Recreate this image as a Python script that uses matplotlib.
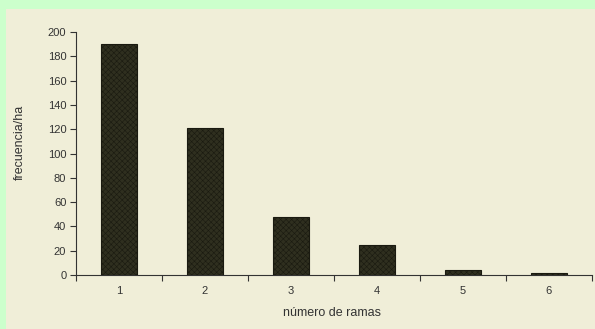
import numpy as np
import matplotlib
matplotlib.use("Agg")
from matplotlib import pyplot as plt
from matplotlib.patches import Rectangle

# data
ramas = [1, 2, 3, 4, 5, 6]
frecuencia = [190, 121, 48, 25, 4, 2]
yticks = [0, 20, 40, 60, 80, 100, 120, 140, 160, 180, 200]

plt.rcParams['font.family'] = ['Liberation Sans', 'DejaVu Sans']
plt.rcParams['hatch.color'] = '#4a4a38'
plt.rcParams['hatch.linewidth'] = 0.4

W, H = 595, 329
fig = plt.figure(figsize=(W / 100, H / 100), dpi=100)
fig.patch.set_facecolor('#ccffcc')
# beige panel inside the green border
fig.patches.append(Rectangle((6 / W, 0), 1, 1 - 9 / H, transform=fig.transFigure,
                             facecolor='#f0eed8', edgecolor='none', zorder=-5))

ax = fig.add_axes([76 / W, 1 - 275 / H, (592 - 76) / W, (275 - 32) / H])
ax.set_facecolor('none')

ax.bar(ramas, frecuencia, width=0.41, color='#2f2f1f', edgecolor='#1a1a10',
       linewidth=0.8, hatch='xxxxxx', zorder=3)

ax.set_xlim(0.5, 6.5)
ax.set_ylim(0, 200)
ax.set_yticks(yticks)

# ticks between categories, labels at centers
ax.set_xticks(np.arange(0.5, 7, 1))
ax.set_xticklabels([])
ax.set_xticks(ramas, minor=True)
ax.set_xticklabels([str(r) for r in ramas], minor=True)
ax.tick_params(axis='x', which='minor', length=0, pad=8)
ax.tick_params(axis='x', which='major', length=4, width=0.8, color='#333333')
ax.tick_params(axis='y', length=4, width=0.8, color='#333333', pad=3)
ax.tick_params(labelsize=8, labelcolor='#333333', which='both')

for s in ['top', 'right']:
    ax.spines[s].set_visible(False)
ax.spines['left'].set_color('#333333')
ax.spines['bottom'].set_color('#333333')

# axis titles placed like the original
fig.text(332 / W, 1 - 313 / H, 'número de ramas', fontsize=9, color='#333333',
         ha='center', va='center')
fig.text(20 / W, 1 - 142 / H, 'frecuencia/ha', fontsize=9, color='#333333',
         ha='center', va='center', rotation=90)

fig.savefig('out.png', dpi=100, facecolor=fig.get_facecolor())
